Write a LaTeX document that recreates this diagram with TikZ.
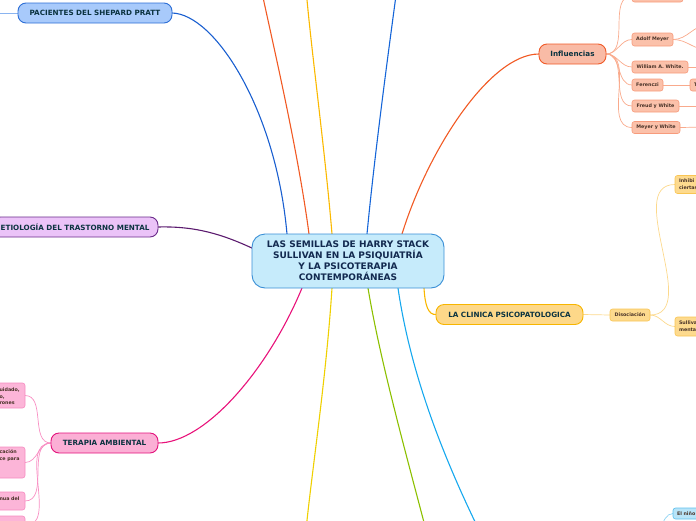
\documentclass[tikz,border=0pt]{standalone}
\usepackage{fontspec}
\setmainfont{DejaVu Sans}
\usetikzlibrary{calc}
\definecolor{hubF}{HTML}{C6EBFB}
\definecolor{hubB}{HTML}{3A8FD6}
\definecolor{hubT}{HTML}{12294F}
\definecolor{brT}{HTML}{0B3340}
\definecolor{lfT}{HTML}{4A3328}
\definecolor{pacF}{HTML}{A8CAFB}
\definecolor{pacB}{HTML}{2C6ED6}
\definecolor{pacL}{HTML}{1A5FD0}
\definecolor{etiF}{HTML}{EBC3F8}
\definecolor{etiB}{HTML}{6A2A8A}
\definecolor{etiL}{HTML}{5B1A6E}
\definecolor{terF}{HTML}{FBAFD5}
\definecolor{terB}{HTML}{E3127C}
\definecolor{terL}{HTML}{E8127A}
\definecolor{pkF}{HTML}{FCB5D8}
\definecolor{pkB}{HTML}{F68BC1}
\definecolor{pkL}{HTML}{F88FC3}
\definecolor{inF}{HTML}{F9BBA6}
\definecolor{inB}{HTML}{F05A28}
\definecolor{inL}{HTML}{F15A24}
\definecolor{ilF}{HTML}{FBC1AA}
\definecolor{ilB}{HTML}{F79B7C}
\definecolor{ilL}{HTML}{F9AA8C}
\definecolor{clF}{HTML}{FDD889}
\definecolor{clB}{HTML}{F7B500}
\definecolor{clL}{HTML}{F9B700}
\definecolor{dsF}{HTML}{FDDA8E}
\definecolor{dsB}{HTML}{F9C553}
\definecolor{dsL}{HTML}{FCD98C}
\definecolor{oranL}{HTML}{F15A24}
\definecolor{goldL}{HTML}{FBB900}
\definecolor{blueL}{HTML}{1565D8}
\definecolor{yelL}{HTML}{EFD000}
\definecolor{grnL}{HTML}{8CC000}
\definecolor{cyanL}{HTML}{16A8EE}
\definecolor{nF}{HTML}{B8E4F8}
\definecolor{nB}{HTML}{5EC0EE}
\definecolor{nL}{HTML}{8DD3F3}
\definecolor{pacSub}{HTML}{8AB4F0}
\pgfdeclarelayer{bg}
\pgfsetlayers{bg,main}
\begin{document}
\begin{tikzpicture}[x=1pt,y=-1pt,
  every node/.style={inner sep=0pt, outer sep=0pt},
  hub/.style={draw=hubB, fill=hubF, line width=0.9pt, rounded corners=13pt, minimum width=192pt, minimum height=54pt, align=center, text=hubT, font=\fontsize{9}{11}\selectfont\bfseries},
  branch/.style={line width=0.9pt, rounded corners=8pt, minimum height=20pt, text=brT, font=\fontsize{7.2}{8}\selectfont\bfseries},
  leaf/.style={line width=0.6pt, rounded corners=2.5pt, minimum height=12pt, inner xsep=3.5pt, text=lfT, font=\fontsize{4.8}{6.5}\selectfont\bfseries},
  leaftext/.style={text=lfT, align=left, font=\fontsize{4.8}{6.7}\selectfont\bfseries},
  conn/.style={line width=1.1pt},
  subconn/.style={line width=0.7pt}
]
\useasboundingbox (0,0) rectangle (696,520);

% central
\node[hub] (c) at (348,261) {LAS SEMILLAS DE HARRY STACK\\SULLIVAN EN LA PSIQUIATRÍA\\Y LA PSICOTERAPIA\\CONTEMPORÁNEAS};

% branches
\node[branch, draw=pacB, fill=pacF, minimum width=154pt] (pac) at (95,13) {PACIENTES DEL SHEPARD PRATT};
\node[branch, draw=etiB, fill=etiF, anchor=east, inner xsep=8.5pt] (eti) at (158,227) {ETIOLOGÍA DEL TRASTORNO MENTAL};
\node[branch, draw=terB, fill=terF, minimum width=107pt] (ter) at (104.5,443) {TERAPIA AMBIENTAL};
\node[branch, draw=inB, fill=inF, minimum width=67pt] (inf) at (572.5,54) {Influencias};
\node[branch, draw=clB, fill=clF, minimum width=147pt] (clin) at (509.5,314.5) {LA CLINICA PSICOPATOLOGICA};

% influencias leaves
\node[leaf, draw=ilB, fill=ilF, minimum width=51pt] (itop) at (657.5,-4) {};
\node[leaf, draw=ilB, fill=ilF, minimum width=41pt, minimum height=13pt] (am) at (652.5,39.5) {Adolf Meyer};
\node[leaf, draw=ilB, fill=ilF, minimum width=56pt] (wa) at (660,67) {William A. White.};
\node[leaf, draw=ilB, fill=ilF, minimum width=31pt] (fe) at (647.5,85) {Ferenczi};
\node[leaf, draw=ilB, fill=ilF, minimum width=30pt, anchor=west, align=left, text width=22pt] (ft) at (690,85) {T};
\node[leaf, draw=ilB, fill=ilF, minimum width=47pt] (fw) at (655.5,106) {Freud y White};
\node[leaf, draw=ilB, fill=ilF, minimum width=48pt] (mw) at (656,127.5) {Meyer y White};

% clinica leaves
\node[leaf, draw=dsB, fill=dsF, minimum width=40pt] (dis) at (630,315) {Disociación};
\node[leaf, draw=dsB, fill=dsF, minimum width=40pt, minimum height=18pt, anchor=west] (inh) at (675,184.5) {};
\node[leaftext, anchor=west] (inht) at (679,184.5) {Inhibi\\ciertas};
\node[leaf, draw=dsB, fill=dsF, minimum width=40pt, minimum height=19pt, anchor=west] (sul) at (675,326.5) {};
\node[leaftext, anchor=west] (sult) at (679,326.5) {Sulliva\\menta};

% el nino
\node[leaf, draw=nB, fill=nF, minimum width=40pt, minimum height=11pt, anchor=west, align=left, text width=32pt] (nino) at (673,513.5) {El niño};

% pink leaves
\node[leaf, draw=pkB, fill=pkF, minimum width=60pt, minimum height=25pt, anchor=east] (p1) at (25,395.5) {};
\node[leaftext, anchor=west] (p1t) at (-0.5,396.5) {uidado,\\o,\\rones};
\node[leaf, draw=pkB, fill=pkF, minimum width=60pt, minimum height=31pt, anchor=east] (p2) at (25,462.5) {};
\node[leaftext, anchor=north west] (p2t) at (-0.5,450) {cación\\ce para};
\node[leaf, draw=pkB, fill=pkF, minimum width=60pt, minimum height=18pt, anchor=east] (p3) at (25,501) {};
\node[leaftext, anchor=west] (p3t) at (-0.5,498.5) {nua del};
\node[leaf, draw=pkB, fill=pkF, minimum width=60pt, minimum height=20pt, anchor=north east] (p4) at (25,516) {};

% off-picture ends
\coordinate (pacW) at (-6,13);
\coordinate (topO) at (261,-12);
\coordinate (topG) at (306,-12);
\coordinate (topB) at (397,-12);
\coordinate (botY) at (306,530);
\coordinate (botG) at (426,530);
\coordinate (botC) at (479,530);
\coordinate (amA) at (708,25);
\coordinate (amB) at (708,50);
\coordinate (waR) at (708,67);
\coordinate (fwR) at (708,106);
\coordinate (mwR) at (708,127);
\coordinate (ninoS) at (660,530);

\begin{pgfonlayer}{bg}
\draw[conn, pacL] (pac.east) .. controls (215,14) and (276,110) .. ($(c.north west)+(35,0)$);
\draw[subconn, pacSub] (pac.west) -- (pacW);
\draw[conn, etiL] (eti.east) .. controls (195,226) and (222,234) .. ($(c.west)+(2,-12)$);
\draw[conn, terL] (ter.east) .. controls (205,443) and (268,370) .. ($(c.south west)+(50,0)$);
\draw[conn, inL] (inf.west) .. controls (490,54) and (428,150) .. ($(c.north west)+(150,0)$);
\draw[conn, clL] ($(c.south east)+(-20,0)$) .. controls (425,305) and (428,315) .. (clin.west);
\draw[conn, oranL] ($(c.north west)+(57,0)$) .. controls (298,150) and (272,40) .. (topO);
\draw[conn, goldL] ($(c.north west)+(80,0)$) .. controls (325,150) and (310,40) .. (topG);
\draw[conn, blueL] ($(c.north west)+(115,0)$) .. controls (375,150) and (390,40) .. (topB);
\draw[conn, yelL] ($(c.south west)+(80,0)$) .. controls (326,380) and (312,470) .. (botY);
\draw[conn, grnL] ($(c.south west)+(116,0)$) .. controls (380,360) and (405,450) .. (botG);
\draw[conn, cyanL] ($(c.south west)+(146,0)$) .. controls (410,370) and (440,450) .. (botC);
% influencias subs
\foreach \n in {itop,am,wa,fe,fw,mw}
  \draw[subconn, ilL] (inf.east) to[out=0,in=180] (\n.west);
\draw[subconn, ilL] (am.east) to[out=0,in=180] (amA);
\draw[subconn, ilL] (am.east) to[out=0,in=180] (amB);
\draw[subconn, ilL] (wa.east) -- (waR);
\draw[subconn, ilL] (fe.east) -- (ft.west);
\draw[subconn, ilL] (fw.east) -- (fwR);
\draw[subconn, ilL] (mw.east) -- (mwR);
% clinica subs
\draw[subconn, dsL] (clin.east) -- (dis.west);
\draw[subconn, dsL] (dis.east) to[out=0,in=180] (inh.west);
\draw[subconn, dsL] (dis.east) to[out=0,in=180] (sul.west);
% nino
\draw[subconn, nL] (ninoS) .. controls (664,520) and (666,514) .. (nino.west);
% pink subs
\foreach \n in {p1,p2,p3,p4}
  \draw[subconn, pkL] (ter.west) to[out=180,in=0] (\n.east);
\end{pgfonlayer}
\end{tikzpicture}
\end{document}
